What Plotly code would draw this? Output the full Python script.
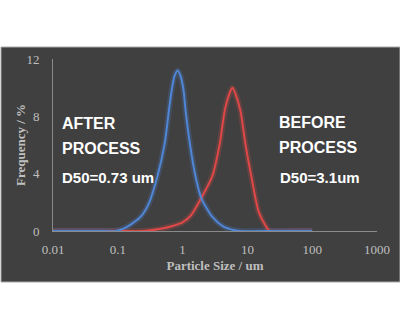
import plotly.graph_objects as go

# Data (particle size in um, frequency in %)
after_size = [0.01, 0.05, 0.093, 0.12, 0.158, 0.226, 0.303, 0.408, 0.529, 0.615, 0.677, 0.75, 0.838, 0.93, 1.036, 1.112, 1.295, 1.585, 1.94, 2.86, 4.27, 6.09, 7.8, 30, 100]
after_freq = [0, 0, 0, 0.15, 0.45, 1.0, 1.95, 3.8, 6.1, 8.4, 9.8, 10.8, 11.2, 10.8, 9.8, 8.4, 6.1, 3.8, 2.3, 1.0, 0.3, 0.07, 0, 0, 0]

before_size = [0.01, 0.1, 0.25, 0.46, 0.7, 1.0, 1.35, 1.94, 2.86, 3.75, 4.47, 5.3, 5.87, 6.5, 7.8, 9.3, 11.5, 14.9, 18.9, 22.0, 50, 100]
before_freq = [0, 0, 0, 0.15, 0.35, 0.6, 1.1, 2.3, 3.8, 6.1, 8.4, 9.6, 10.0, 9.6, 8.4, 6.1, 3.8, 1.35, 0.4, 0, 0, 0]

y_ticks = [0, 4, 8, 12]
x_ticks = [0.01, 0.1, 1, 10, 100, 1000]
x_tick_labels = ["0.01", "0.1", "1", "10", "100", "1000"]

BLUE = "#4f86d6"
RED = "#e04848"
SM = 0.7

fig = go.Figure()
# glow layers
for xs, ys, c in [(before_size, before_freq, "rgba(224,72,72,0.22)"), (after_size, after_freq, "rgba(79,134,214,0.22)")]:
    fig.add_trace(go.Scatter(x=xs, y=ys, mode="lines", line=dict(color=c, width=6, shape="spline", smoothing=SM),
                             hoverinfo="skip", showlegend=False))
fig.add_trace(go.Scatter(x=before_size, y=before_freq, mode="lines", name="Before",
                         line=dict(color=RED, width=2, shape="spline", smoothing=SM), showlegend=False))
fig.add_trace(go.Scatter(x=after_size, y=after_freq, mode="lines", name="After",
                         line=dict(color=BLUE, width=2, shape="spline", smoothing=SM), showlegend=False))

L, R, T, B = 53, 23, 59, 99
W, H = 400, 330
pw, ph = W - L - R, H - T - B

def px(x):
    return (x - L) / pw

def py(y):
    return (H - B - y) / ph

fig.add_shape(type="rect", xref="paper", yref="paper", x0=px(1), x1=px(400), y0=py(282), y1=py(47),
              fillcolor="#404040", line=dict(color="#a8a8a8", width=1), layer="below")

ann_font_big = dict(family="Liberation Sans", size=16, color="white")
ann_font_small = dict(family="Liberation Sans", size=15, color="white")
for txt, x, y, f in [
    ("<b>AFTER</b>", 60, 123, ann_font_big),
    ("<b>PROCESS</b>", 60, 148, ann_font_big),
    ("<b>D50=0.73 um</b>", 60, 177, ann_font_small),
    ("<b>BEFORE</b>", 277, 122, ann_font_big),
    ("<b>PROCESS</b>", 277, 147, ann_font_big),
    ("<b>D50=3.1um</b>", 278, 177, ann_font_small),
]:
    fig.add_annotation(text=txt, xref="paper", yref="paper", x=px(x), y=py(y), xanchor="left", yanchor="middle",
                       showarrow=False, font=f)

tick_font = dict(family="Liberation Serif", size=13, color="#bfbfbf")
title_font = dict(family="Liberation Serif", size=13, color="#bfbfbf")

# y-axis title placed as rotated text
fig.add_annotation(text="<b>Frequency / %</b>", xref="paper", yref="paper", x=px(20), y=py(145),
                   xanchor="center", yanchor="middle", textangle=-90, showarrow=False, font=title_font)

fig.update_layout(
    width=W, height=H,
    margin=dict(l=L, r=R, t=T, b=B, autoexpand=False),
    paper_bgcolor="white",
    plot_bgcolor="rgba(0,0,0,0)",
    xaxis=dict(type="log", range=[-2, 3], tickvals=x_ticks, ticktext=x_tick_labels, showgrid=False,
               zeroline=False, showline=True, linecolor="#8a8a8a", linewidth=1, ticks="",
               tickfont=tick_font, ticklabelstandoff=6,
               title=dict(text="<b>Particle Size / um</b>", font=title_font, standoff=5)),
    yaxis=dict(range=[0, 12], tickvals=y_ticks, showgrid=False, zeroline=False, showline=True,
               linecolor="#8a8a8a", linewidth=1, ticks="", tickfont=tick_font, ticklabelstandoff=10),
)

fig.write_html("out.html")
